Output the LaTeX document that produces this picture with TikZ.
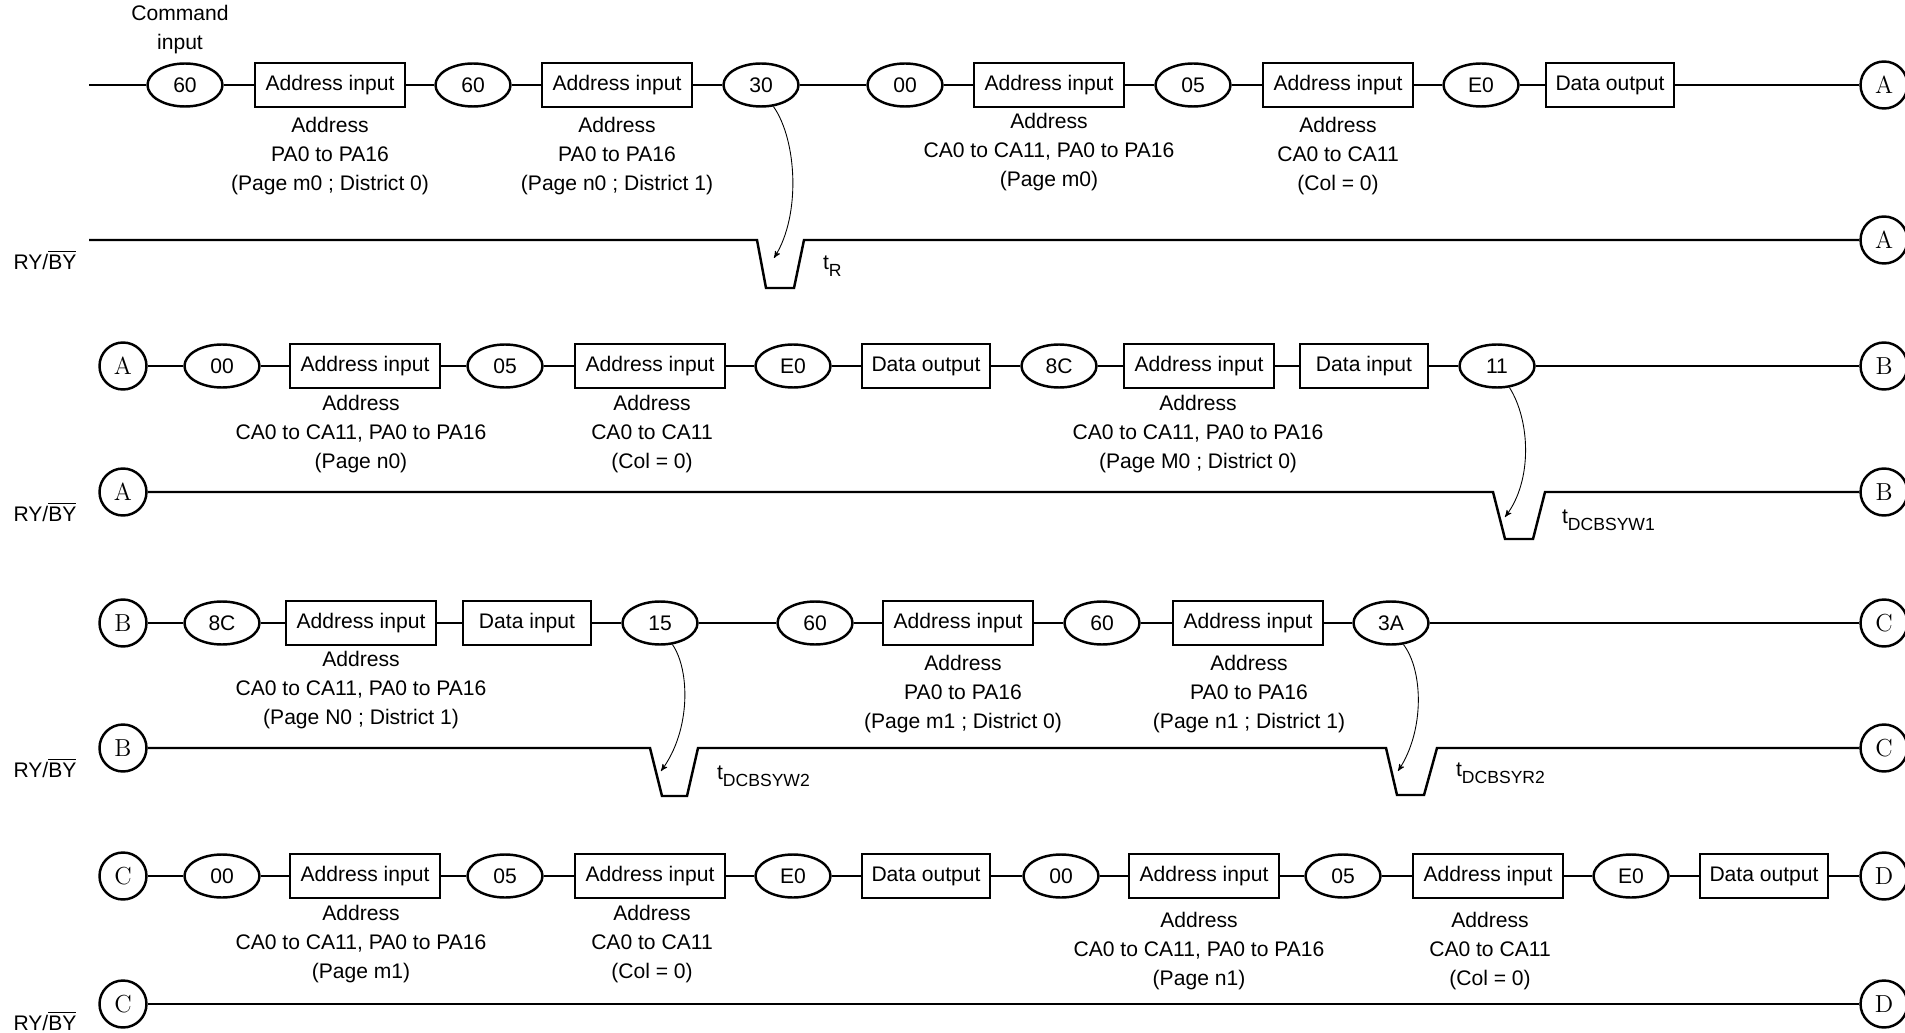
\documentclass[tikz,border=0pt]{standalone}
\usepackage{amsmath}
\usepackage{fontspec}
\setsansfont{Liberation Sans}
\usepackage{tikz}
\usetikzlibrary{arrows, positioning, shapes}
\newcommand{\tsub}[1]{t\raisebox{-4pt}{\fontsize{10}{12}\selectfont #1}}

\begin{document}
\begin{tikzpicture}[x=0.02cm, y=-0.02cm, line width=1.4pt,
      every node/.style={align=center, font=\sffamily\fontsize{12}{16.5}\selectfont},
      cmd/.style={ellipse, draw, minimum width=1.5cm, minimum height=0.86cm, inner sep=0pt},
      addr/.style={rectangle, draw, minimum width=3cm, minimum height=0.88cm, inner sep=0pt},
      data/.style={rectangle, draw, minimum width=2.56cm, minimum height=0.88cm, inner sep=0pt},
      link/.style={circle, draw, minimum size=0.94cm, inner sep=0pt, font=\rmfamily\fontsize{14}{16}\selectfont},
      timing/.style={->, >=stealth', line width=0.5pt}]
  \useasboundingbox (0,0) rectangle (1905,1033);

  % row 1
  \node at (180,30) {Command\\input};
  \coordinate (r1s) at (89,85);
  \node[cmd]  (r1a) at (185,85)  {60};
  \node[addr] (r1b) at (330,85)  {Address input};
  \node[cmd]  (r1c) at (473,85)  {60};
  \node[addr] (r1d) at (617,85)  {Address input};
  \node[cmd]  (r1e) at (761,85)  {30};
  \node[cmd]  (r1f) at (905,85)  {00};
  \node[addr] (r1g) at (1049,85) {Address input};
  \node[cmd]  (r1h) at (1193,85) {05};
  \node[addr] (r1i) at (1338,85) {Address input};
  \node[cmd]  (r1j) at (1481,85) {E0};
  \node[data] (r1k) at (1610,85) {Data output};
  \node[link] (r1z) at (1884,85) {A};
  \node at (330,156)  {Address\\PA0 to PA16\\(Page m0 ; District 0)};
  \node at (617,156)  {Address\\PA0 to PA16\\(Page n0 ; District 1)};
  \node at (1049,152) {Address\\CA0 to CA11, PA0 to PA16\\(Page m0)};
  \node at (1338,156) {Address\\CA0 to CA11\\(Col = 0)};
  \draw (r1s) -- (r1a) -- (r1b) -- (r1c) -- (r1d) -- (r1e) -- (r1f) -- (r1g) -- (r1h) -- (r1i) -- (r1j) -- (r1k) -- (r1z);

  \node at (45,260) {RY/$\overline{\text{BY}}$};
  \coordinate (w1s) at (89,240);
  \coordinate (w1d) at (757,240);
  \node[link] (w1z) at (1884,240) {A};
  \draw (w1s) -- (w1d) -- ++(9,48) -- ++(28,0) -- ++(10,-48) -- (w1z);
  \coordinate (t1) at (774,258);
  \draw[timing] (r1e.-60) .. controls (797,140) and (801,215) .. (t1);
  \node[anchor=west] at (816,266) {\tsub{R}};

  % row 2
  \node[link] (r2s) at (123,366)  {A};
  \node[cmd]  (r2a) at (222,366)  {00};
  \node[addr] (r2b) at (365,366)  {Address input};
  \node[cmd]  (r2c) at (505,366)  {05};
  \node[addr] (r2d) at (650,366)  {Address input};
  \node[cmd]  (r2e) at (793,366)  {E0};
  \node[data] (r2f) at (926,366)  {Data output};
  \node[cmd]  (r2g) at (1059,366) {8C};
  \node[addr] (r2h) at (1199,366) {Address input};
  \node[data] (r2i) at (1364,366) {Data input};
  \node[cmd]  (r2j) at (1497,366) {11};
  \node[link] (r2z) at (1884,366) {B};
  \node at (361,434)  {Address\\CA0 to CA11, PA0 to PA16\\(Page n0)};
  \node at (652,434)  {Address\\CA0 to CA11\\(Col = 0)};
  \node at (1198,434) {Address\\CA0 to CA11, PA0 to PA16\\(Page M0 ; District 0)};
  \draw (r2s) -- (r2a) -- (r2b) -- (r2c) -- (r2d) -- (r2e) -- (r2f) -- (r2g) -- (r2h) -- (r2i) -- (r2j) -- (r2z);

  \node at (45,512) {RY/$\overline{\text{BY}}$};
  \node[link] (w2s) at (123,492)  {A};
  \coordinate (w2d) at (1493,492);
  \node[link] (w2z) at (1884,492) {B};
  \draw (w2s) -- (w2d) -- ++(12,47) -- ++(28,0) -- ++(12,-47) -- (w2z);
  \coordinate (t2) at (1505,517);
  \draw[timing] (r2j.-60) .. controls (1530,420) and (1533,480) .. (t2);
  \node[anchor=west] at (1555,520) {\tsub{DCBSYW1}};

  % row 3
  \node[link] (r3s) at (123,623)  {B};
  \node[cmd]  (r3a) at (222,623)  {8C};
  \node[addr] (r3b) at (361,623)  {Address input};
  \node[data] (r3c) at (527,623)  {Data input};
  \node[cmd]  (r3d) at (660,623)  {15};
  \node[cmd]  (r3e) at (815,623)  {60};
  \node[addr] (r3f) at (958,623)  {Address input};
  \node[cmd]  (r3g) at (1102,623) {60};
  \node[addr] (r3h) at (1248,623) {Address input};
  \node[cmd]  (r3i) at (1391,623) {3A};
  \node[link] (r3z) at (1884,623) {C};
  \node at (361,690)  {Address\\CA0 to CA11, PA0 to PA16\\(Page N0 ; District 1)};
  \node at (963,694)  {Address\\PA0 to PA16\\(Page m1 ; District 0)};
  \node at (1249,694) {Address\\PA0 to PA16\\(Page n1 ; District 1)};
  \draw (r3s) -- (r3a) -- (r3b) -- (r3c) -- (r3d) -- (r3e) -- (r3f) -- (r3g) -- (r3h) -- (r3i) -- (r3z);

  \node at (45,768) {RY/$\overline{\text{BY}}$};
  \node[link] (w3s) at (123,748)  {B};
  \coordinate (w3d) at (650,748);
  \coordinate (w3e) at (1386,748);
  \node[link] (w3z) at (1884,748) {C};
  \draw (w3s) -- (w3d) -- ++(12,48) -- ++(25,0) -- ++(11,-48) -- (w3e) -- ++(11,47) -- ++(27,0) -- ++(13,-47) -- (w3z);
  \coordinate (t3) at (661,771);
  \coordinate (t4) at (1398,771);
  \draw[timing] (r3d.-60) .. controls (690,670) and (691,730) .. (t3);
  \draw[timing] (r3i.-60) .. controls (1423,670) and (1425,730) .. (t4);
  \node[anchor=west] at (710,776)  {\tsub{DCBSYW2}};
  \node[anchor=west] at (1449,773) {\tsub{DCBSYR2}};

  % row 4
  \node[link] (r4s) at (123,876)  {C};
  \node[cmd]  (r4a) at (222,876)  {00};
  \node[addr] (r4b) at (365,876)  {Address input};
  \node[cmd]  (r4c) at (505,876)  {05};
  \node[addr] (r4d) at (650,876)  {Address input};
  \node[cmd]  (r4e) at (793,876)  {E0};
  \node[data] (r4f) at (926,876)  {Data output};
  \node[cmd]  (r4g) at (1061,876) {00};
  \node[addr] (r4h) at (1204,876) {Address input};
  \node[cmd]  (r4i) at (1343,876) {05};
  \node[addr] (r4j) at (1488,876) {Address input};
  \node[cmd]  (r4k) at (1631,876) {E0};
  \node[data] (r4l) at (1764,876) {Data output};
  \node[link] (r4z) at (1884,876) {D};
  \node at (361,944)  {Address\\CA0 to CA11, PA0 to PA16\\(Page m1)};
  \node at (652,944)  {Address\\CA0 to CA11\\(Col = 0)};
  \node at (1199,951) {Address\\CA0 to CA11, PA0 to PA16\\(Page n1)};
  \node at (1490,951) {Address\\CA0 to CA11\\(Col = 0)};
  \draw (r4s) -- (r4a) -- (r4b) -- (r4c) -- (r4d) -- (r4e) -- (r4f) -- (r4g) -- (r4h) -- (r4i) -- (r4j) -- (r4k) -- (r4l) -- (r4z);

  \node at (45,1021) {RY/$\overline{\text{BY}}$};
  \node[link] (w4s) at (123,1004)  {C};
  \node[link] (w4z) at (1884,1004) {D};
  \draw (w4s) -- (w4z);
\end{tikzpicture}
\end{document}
